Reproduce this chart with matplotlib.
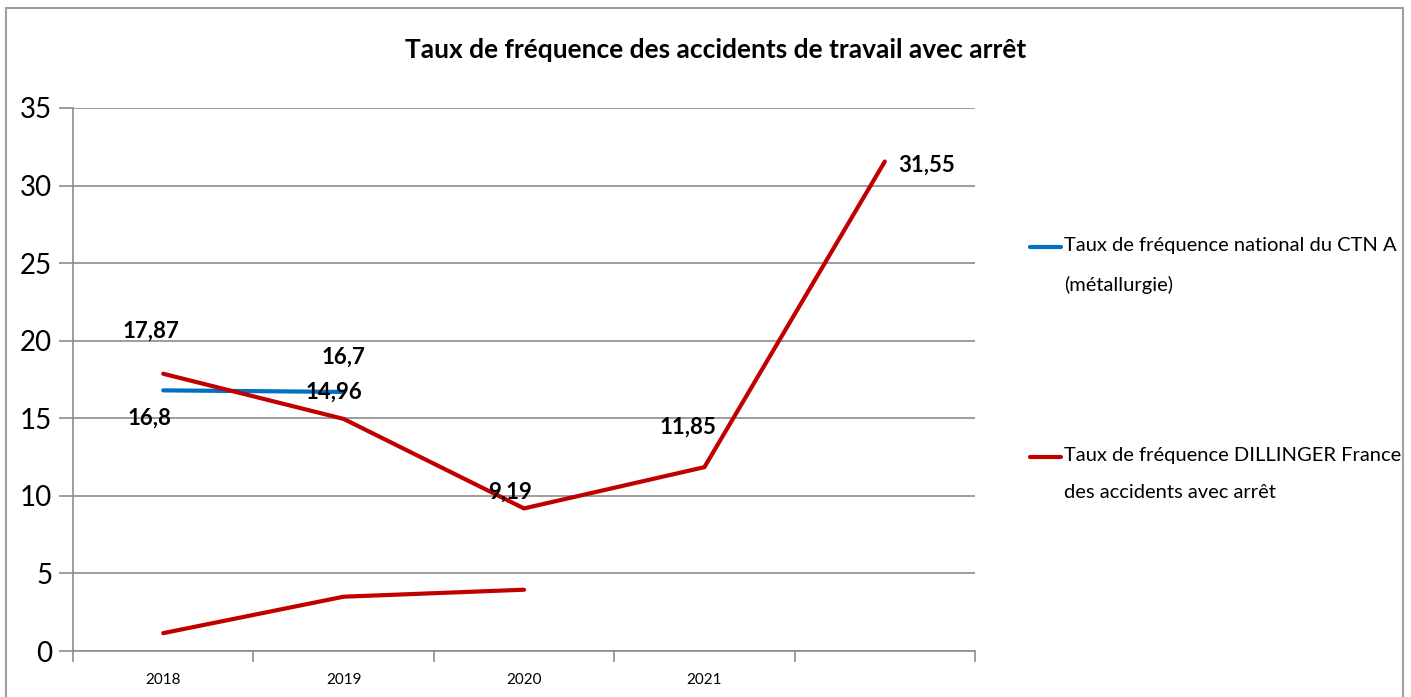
import numpy as np
import matplotlib
matplotlib.use('Agg')
from matplotlib import pyplot as plt
from matplotlib.patches import Rectangle
from matplotlib.lines import Line2D

plt.rcParams['font.family'] = ['Lato', 'DejaVu Sans']

# data
categories = ['2018', '2019', '2020', '2021', '']
national = [16.8, 16.7]
dillinger = [17.87, 14.96, 9.19, 11.85, 31.55]
dillinger_low = [1.15, 3.5, 3.95]
national_labels = ['16,8', '16,7']
dillinger_labels = ['17,87', '14,96', '9,19', '11,85', '31,55']

title = 'Taux de fréquence des accidents de travail avec arrêt'
legend_national = 'Taux de fréquence national du CTN A\n(métallurgie)'
legend_dillinger = 'Taux de fréquence DILLINGER France\ndes accidents avec arrêt'

blue = '#0070C0'
red = '#C00000'
grid = '#8c8c8c'

W, H = 1411, 697
fig = plt.figure(figsize=(W / 100, H / 100), dpi=100)
ax = fig.add_axes([73 / W, 1 - 651 / H, (975 - 73) / W, (651 - 108) / H])

x = np.arange(len(categories))
ax.plot(x[:len(national)], national, color=blue, lw=3, solid_capstyle='round', zorder=3)
ax.plot(x, dillinger, color=red, lw=3, solid_capstyle='round', zorder=3)
ax.plot(x[:len(dillinger_low)], dillinger_low, color=red, lw=3,
        solid_capstyle='round', zorder=3)

# data labels
lab = dict(fontsize=16, fontweight='bold', color='black', zorder=4)
ax.annotate(dillinger_labels[0], (x[0], dillinger[0]), xytext=(-9, 31),
            textcoords='offset points', ha='center', va='center', **lab)
ax.annotate(dillinger_labels[1], (x[1], dillinger[1]), xytext=(-7, 19),
            textcoords='offset points', ha='center', va='center', **lab)
ax.annotate(dillinger_labels[2], (x[2], dillinger[2]), xytext=(-10, 12),
            textcoords='offset points', ha='center', va='center', **lab)
ax.annotate(dillinger_labels[3], (x[3], dillinger[3]), xytext=(-12, 29),
            textcoords='offset points', ha='center', va='center', **lab)
ax.annotate(dillinger_labels[4], (x[4], dillinger[4]), xytext=(30, -3),
            textcoords='offset points', ha='center', va='center', **lab)
ax.annotate(national_labels[0], (x[0], national[0]), xytext=(-10, -20),
            textcoords='offset points', ha='center', va='center', **lab)
ax.annotate(national_labels[1], (x[1], national[1]), xytext=(0, 25),
            textcoords='offset points', ha='center', va='center', **lab)

ax.set_xlim(-0.5, len(categories) - 0.5)
ax.set_ylim(0, 35)
ax.set_yticks(np.arange(0, 36, 5))
ax.yaxis.grid(True, color=grid, lw=1.2)
ax.set_axisbelow(True)

ax.set_xticks(x)
ax.set_xticklabels(categories, fontsize=11)
ax.set_xticks(np.arange(-0.5, len(categories)), minor=True)
ax.tick_params(axis='x', which='major', length=0, pad=16)
ax.tick_params(axis='x', which='minor', length=8, color=grid, width=1.2)
ax.tick_params(axis='y', length=10, color=grid, width=1.2, labelsize=20, pad=5)

for s in ['top', 'right']:
    ax.spines[s].set_visible(False)
for s in ['left', 'bottom']:
    ax.spines[s].set_color(grid)
    ax.spines[s].set_linewidth(1.2)

fig.text(0.507, 1 - 50 / H, title, ha='center', va='center', fontsize=19,
         fontweight='bold')

# legend drawn by hand so the key sits on the first text line
for label, color, ytop in [(legend_national, blue, 247), (legend_dillinger, red, 457)]:
    fig.add_artist(Line2D([1030 / W, 1061 / W], [1 - ytop / H] * 2, color=color,
                          lw=3, solid_capstyle='round'))
    fig.text(1064 / W, 1 - (ytop - 10) / H, label, ha='left', va='top',
             fontsize=14.5, linespacing=2.45)

fig.patches.append(Rectangle((0.004, -0.01), 0.99, 0.998, transform=fig.transFigure,
                             fill=False, edgecolor='#a0a0a0', lw=1.5))

fig.savefig('out.png', dpi=100)
